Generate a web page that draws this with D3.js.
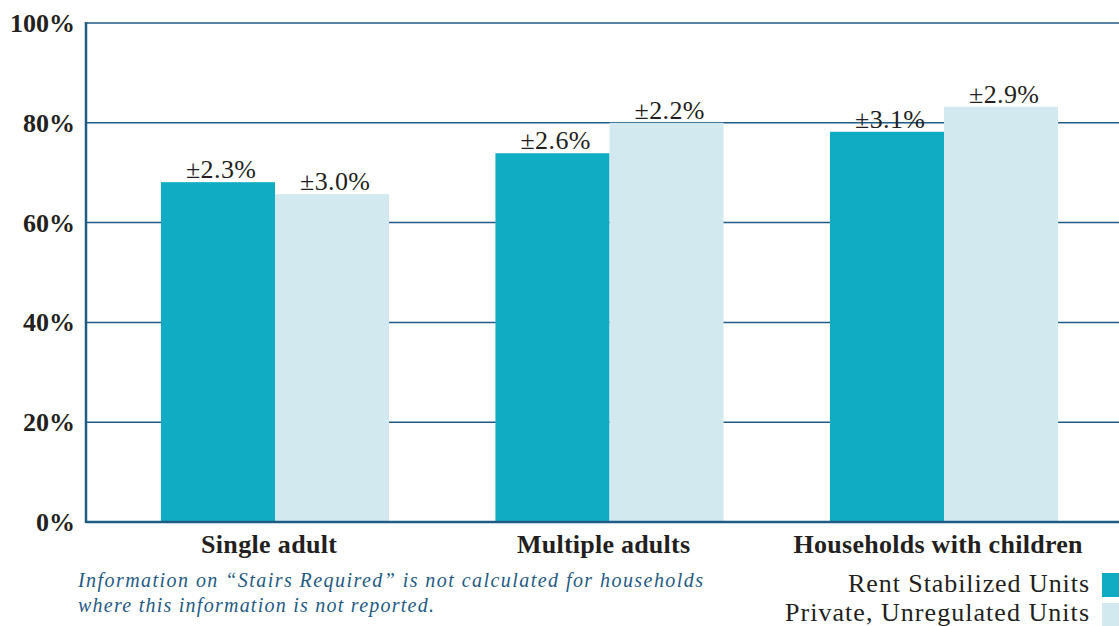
<!DOCTYPE html>
<html><head><meta charset="utf-8">
<script src="https://cdn.jsdelivr.net/npm/d3@7"></script>
<style>body{margin:0;background:#fff}svg{display:block}</style>
</head><body>
<svg id="c" width="1119" height="626"></svg>
<script>
const categories = ["Single adult", "Multiple adults", "Households with children"];
const series = ["Rent Stabilized Units", "Private, Unregulated Units"];
const rentStabilized = [68.1, 73.9, 78.2];
const privateUnregulated = [65.7, 80.0, 83.2];
const rentMoe = ["±2.3%", "±2.6%", "±3.1%"];
const privateMoe = ["±3.0%", "±2.2%", "±2.9%"];
const yTicks = [0, 20, 40, 60, 80, 100];
const colors = ["#10acc4", "#d2eaef"];
const note = ["Information on “Stairs Required” is not calculated for households",
              "where this information is not reported."];

(function () {
const svg = d3.select("#c");
const plotLeft = 86, plotTop = 23, plotBottom = 522;
const y = d3.scaleLinear().domain([0, 100]).range([plotBottom, plotTop]);
const x0 = d3.scaleBand().domain(categories).range([86, 1133]).paddingInner(0.318).paddingOuter(0.224);
const x1 = d3.scaleBand().domain(series).range([0, x0.bandwidth()]);
const axisColor = "#1f5b85";
const serif = '"Liberation Serif", "Times New Roman", serif';
const ink = "#231f20";

// gridlines
svg.append("g").selectAll("line").data(yTicks.filter(d => d > 0)).join("line")
  .attr("x1", plotLeft).attr("x2", 1119).attr("y1", d => y(d)).attr("y2", d => y(d))
  .attr("stroke", axisColor).attr("stroke-width", 1.5);

// bars
const data = categories.map((c, i) => ({c, vals: [
  {s: series[0], v: rentStabilized[i], m: rentMoe[i], col: colors[0]},
  {s: series[1], v: privateUnregulated[i], m: privateMoe[i], col: colors[1]}]}));
const g = svg.append("g").selectAll("g").data(data).join("g")
  .attr("transform", d => `translate(${x0(d.c)},0)`);
g.selectAll("rect").data(d => d.vals).join("rect")
  .attr("x", d => x1(d.s)).attr("width", x1.bandwidth())
  .attr("y", d => y(d.v)).attr("height", d => y(0) - y(d.v))
  .attr("fill", d => d.col);
g.selectAll("text").data(d => d.vals).join("text")
  .attr("x", d => x1(d.s) + x1.bandwidth() / 2 + 3).attr("y", d => y(d.v) - 4)
  .attr("text-anchor", "middle").style("font-family", serif).style("font-size", "26px")
  .attr("textLength", 70).attr("lengthAdjust", "spacing")
  .attr("fill", ink).text(d => d.m);

// axes lines
svg.append("line").attr("x1", plotLeft).attr("x2", plotLeft).attr("y1", plotTop - 1).attr("y2", plotBottom + 1)
  .attr("stroke", axisColor).attr("stroke-width", 2.5);
svg.append("line").attr("x1", plotLeft).attr("x2", 1119).attr("y1", plotBottom).attr("y2", plotBottom)
  .attr("stroke", axisColor).attr("stroke-width", 2.5);

// y tick labels
svg.append("g").selectAll("text").data(yTicks).join("text")
  .attr("x", 75).attr("y", d => y(d) + 9).attr("text-anchor", "end")
  .style("font-family", serif).style("font-weight", "bold").style("font-size", "26px")
  .attr("fill", ink).text(d => d + "%");

// category labels
const catW = [136, 173, 289];
svg.append("g").selectAll("text").data(categories).join("text")
  .attr("x", d => x0(d) + x0.bandwidth() / 2 - 6).attr("y", 553).attr("text-anchor", "middle")
  .style("font-family", serif).style("font-weight", "bold").style("font-size", "26px")
  .attr("textLength", (d, i) => catW[i]).attr("lengthAdjust", "spacing")
  .attr("fill", ink).text(d => d);

// note
svg.append("g").selectAll("text").data(note).join("text")
  .attr("x", 78).attr("y", (d, i) => 587 + i * 25)
  .style("font-family", serif).style("font-style", "italic").style("font-size", "20px")
  .attr("fill", "#1f5b85")
  .attr("textLength", (d, i) => i === 0 ? 625 : 356).attr("lengthAdjust", "spacing")
  .text(d => d);

// legend
const legW = [241, 304];
const lg = svg.append("g").selectAll("g").data(series).join("g")
  .attr("transform", (d, i) => `translate(0,${i * 29})`);
lg.append("rect").attr("x", 1102).attr("y", (d, i) => 573 + i)
  .attr("width", 17).attr("height", 24)
  .attr("fill", (d, i) => colors[i]);
lg.append("text").attr("x", 1089).attr("y", 592).attr("text-anchor", "end")
  .style("font-family", serif).style("font-size", "26px")
  .attr("textLength", (d, i) => legW[i]).attr("lengthAdjust", "spacing")
  .attr("fill", ink).text(d => d);
})();
</script>
</body></html>
